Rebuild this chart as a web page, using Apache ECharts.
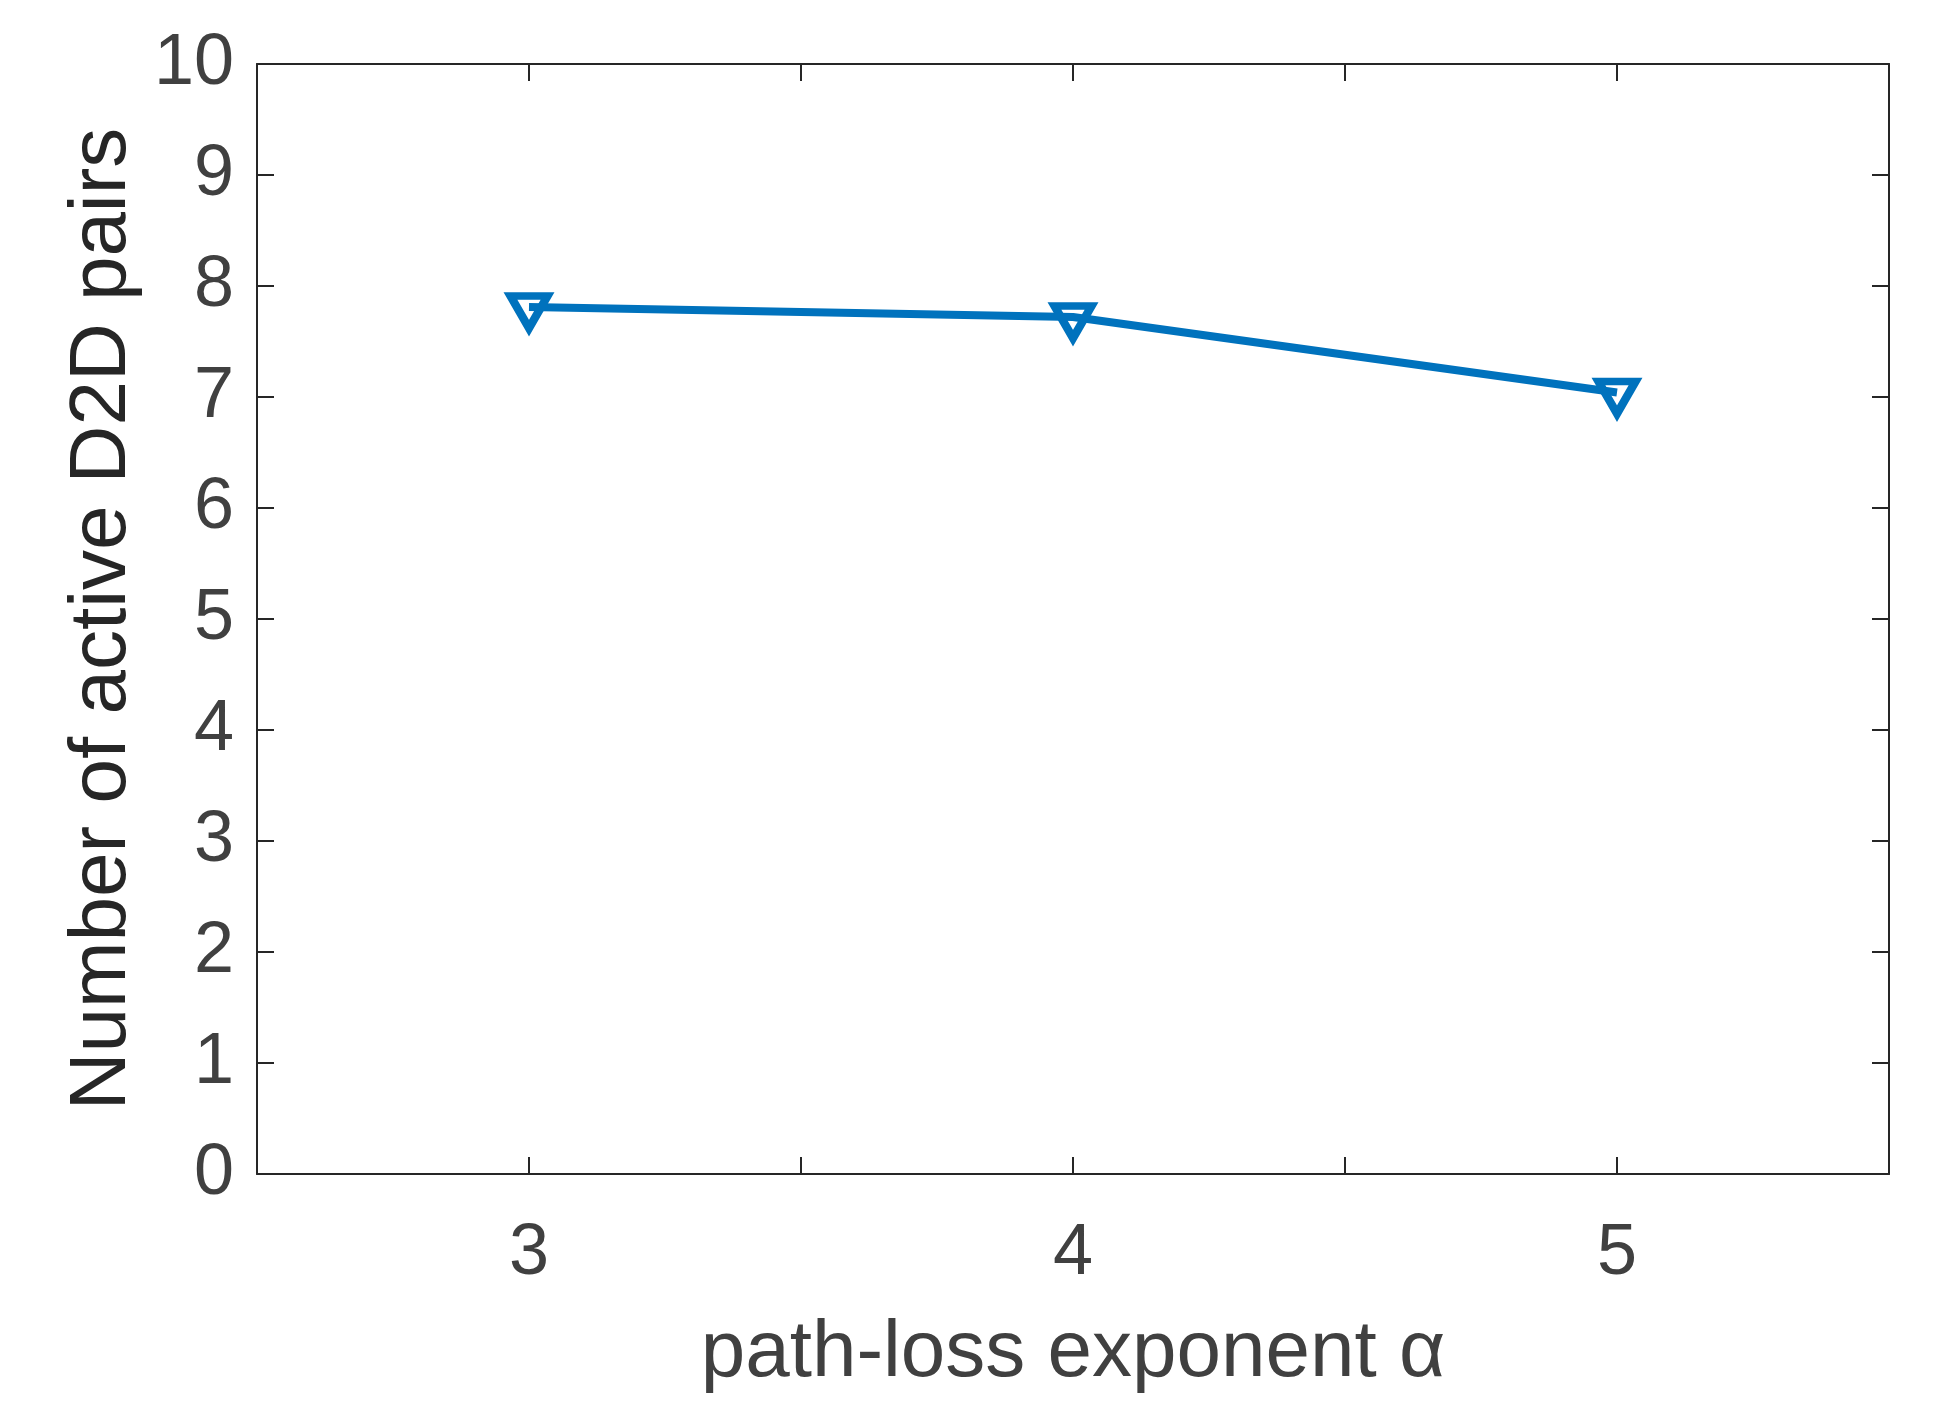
<!DOCTYPE html>
<html>
<head>
<meta charset="utf-8">
<script src="https://cdn.jsdelivr.net/npm/echarts@6/dist/echarts.min.js"></script>
<style>
    html, body { margin: 0; padding: 0; background: #fff; }
    #chart { width: 1936px; height: 1416px; }
</style>
</head>
<body>
<div id="chart"></div>
<script>
// path-loss exponent on x, number of active D2D pairs on y
const alphaValues = [3, 4, 5];
const activePairs = [7.81, 7.72, 7.04];
const xTickLabels = ['3', '4', '5'];

const axisColor = '#262626';
const labelColor = '#404040';
const lineColor = '#0072BD';
const font = 'Liberation Sans, Arial, Helvetica, sans-serif';

const chart = echarts.init(document.getElementById('chart'));

// box + inward ticks on all four sides (MATLAB style)
function frameAxis(extra) {
    return Object.assign({
        axisLine: { show: true, onZero: false, lineStyle: { color: axisColor, width: 2 } },
        axisTick: { show: true, inside: true, length: 17, lineStyle: { color: axisColor, width: 2 } },
        splitLine: { show: false }
    }, extra);
}

chart.setOption({
    animation: false,
    backgroundColor: '#fff',
    grid: {
        left: 257,
        right: 47,
        top: 64,
        bottom: 242,
        containLabel: false,
        outerBoundsMode: 'none'
    },
    xAxis: [
        frameAxis({
            type: 'value',
            position: 'bottom',
            min: 2.5,
            max: 5.5,
            interval: 0.5,
            name: 'path-loss exponent α',
            nameLocation: 'middle',
            nameGap: 140,
            nameTextStyle: { fontFamily: font, fontSize: 80, color: labelColor },
            axisLabel: {
                margin: 44,
                fontFamily: font,
                fontSize: 72,
                color: labelColor,
                formatter: function (v) {
                    const i = alphaValues.indexOf(v);
                    return i >= 0 ? xTickLabels[i] : '';
                }
            }
        }),
        frameAxis({
            type: 'value',
            position: 'top',
            min: 2.5,
            max: 5.5,
            interval: 0.5,
            axisLabel: { show: false }
        })
    ],
    yAxis: [
        frameAxis({
            type: 'value',
            position: 'left',
            min: 0,
            max: 10,
            interval: 1,
            name: 'Number of active D2D pairs',
            nameLocation: 'middle',
            nameGap: 106,
            nameTextStyle: { fontFamily: font, fontSize: 80, color: axisColor },
            axisLabel: {
                margin: 23,
                padding: [8, 0, 0, 0],
                fontFamily: font,
                fontSize: 72,
                color: labelColor
            }
        }),
        frameAxis({
            type: 'value',
            position: 'right',
            min: 0,
            max: 10,
            interval: 1,
            axisLabel: { show: false }
        })
    ],
    series: [
        {
            type: 'line',
            data: alphaValues.map((a, i) => [a, activePairs[i]]),
            symbol: 'triangle',
            symbolRotate: 180,
            symbolSize: [37, 32],
            symbolOffset: [0, 5],
            showSymbol: true,
            lineStyle: { color: lineColor, width: 8 },
            itemStyle: {
                color: 'rgba(0,0,0,0)',
                borderColor: lineColor,
                borderWidth: 8,
                borderJoin: 'miter',
                borderMiterLimit: 10
            }
        }
    ]
});
</script>
</body>
</html>
